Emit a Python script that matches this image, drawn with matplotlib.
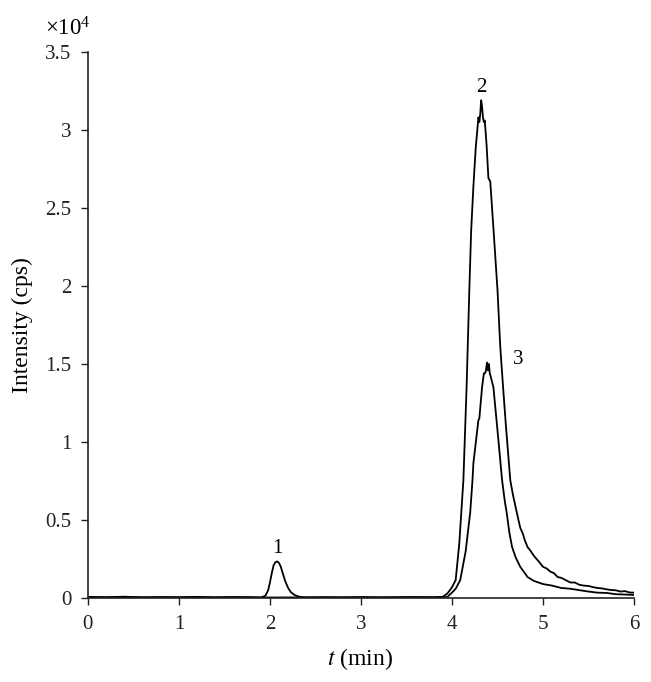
import numpy as np
import matplotlib
matplotlib.use("Agg")
import matplotlib.pyplot as plt

plt.rcParams["font.family"] = ["Liberation Serif", "DejaVu Serif"]
plt.rcParams["mathtext.fontset"] = "stix"

# trace with peak 1 and peak 2 (t in min, intensity in cps)
t_a = [0.0, 0.2, 0.4, 0.6, 0.8, 1.0, 1.2, 1.4, 1.6, 1.8, 1.9, 1.95, 1.98, 2.0,
       2.02, 2.04, 2.06, 2.08, 2.1, 2.12, 2.14, 2.17, 2.2, 2.23, 2.27, 2.32,
       2.4, 2.6, 2.8, 3.0, 3.2, 3.4, 3.6, 3.8, 3.9, 3.95, 4.0, 4.04, 4.08,
       4.125, 4.16, 4.19, 4.21, 4.235, 4.26, 4.29, 4.30, 4.31, 4.32, 4.33,
       4.34, 4.35, 4.36, 4.38, 4.40, 4.41, 4.42, 4.455, 4.50, 4.53, 4.56,
       4.59, 4.64, 4.67, 4.70, 4.73, 4.75, 4.78, 4.80, 4.83, 4.86, 4.90, 4.93,
       4.96, 5.0, 5.04, 5.08, 5.12, 5.16, 5.2, 5.25, 5.3, 5.35, 5.4, 5.45,
       5.5, 5.55, 5.6, 5.65, 5.7, 5.75, 5.8, 5.85, 5.9, 5.95, 6.0]
i_a = [80, 60, 90, 50, 70, 60, 80, 50, 70, 60, 40, 150, 500, 1000,
       1600, 2100, 2300, 2350, 2250, 2000, 1600, 1050, 650, 380, 200, 90,
       40, 60, 50, 70, 50, 60, 70, 60, 90, 300, 700, 1150, 3500,
       7560, 13500, 19700, 23500, 26400, 28800, 30800, 30500, 31000, 31900, 31500,
       30800, 30500, 30600, 29000, 26900, 26800, 26700, 23700, 19700, 16100, 13600,
       11200, 7560, 6600, 5800, 5000, 4500, 4100, 3700, 3270, 3050, 2700, 2500,
       2300, 2000, 1900, 1700, 1600, 1350, 1300, 1150, 1000, 1000, 850, 800,
       780, 700, 650, 620, 560, 520, 500, 420, 450, 360, 350]

# trace with peak 3
t_b = [0.0, 0.5, 1.0, 1.5, 2.0, 2.5, 3.0, 3.5, 3.9, 3.95, 3.99, 4.04, 4.09,
       4.15, 4.2, 4.225, 4.235, 4.26, 4.29, 4.30, 4.33, 4.35, 4.36, 4.37,
       4.385, 4.395, 4.405, 4.415, 4.425, 4.455, 4.51, 4.55, 4.58, 4.6, 4.63,
       4.66, 4.7, 4.75, 4.8, 4.83, 4.9, 5.0, 5.1, 5.2, 5.3, 5.41, 5.5, 5.6,
       5.7, 5.8, 5.9, 6.0]
i_b = [40, 50, 40, 50, 40, 50, 40, 50, 40, 80, 300, 600, 1150,
       3000, 5500, 7560, 8650, 9900, 11400, 11500, 13500, 14400, 14400, 14500,
       15100, 14600, 15000, 14400, 14200, 13500, 10100, 7560, 6200, 5500, 4200,
       3270, 2600, 2000, 1600, 1350, 1100, 900, 800, 650, 600, 500, 420, 350,
       330, 250, 230, 200]

peak_labels = ["1", "2", "3"]
label_t = [2.08, 4.32, 4.73]
label_i = [3200, 32700, 15300]

y_ticks = [0, 5000, 10000, 15000, 20000, 25000, 30000, 35000]
y_tick_labels = ["0", "0.5", "1", "1.5", "2", "2.5", "3", "3.5"]
x_ticks = [0, 1, 2, 3, 4, 5, 6]

fig = plt.figure(figsize=(6.51, 6.82), dpi=100)
ax = fig.add_axes([0.135, 0.123, 0.839, 0.801])

ax.plot(t_a, i_a, color="black", lw=1.3)
ax.plot(t_b, i_b, color="black", lw=1.3)

for lab, tx, iy in zip(peak_labels, label_t, label_i):
    ax.text(tx, iy, lab, fontsize=15, ha="center", va="center")

ax.set_xlim(0, 6)
ax.set_ylim(0, 35000)
ax.set_xticks(x_ticks)
ax.set_xticklabels([str(x) for x in x_ticks])
ax.set_yticks(y_ticks)
ax.set_yticklabels(y_tick_labels)
ax.tick_params(axis="both", direction="out", length=5, width=1, labelsize=15,
               colors="#222222")
ax.tick_params(axis="y", pad=7)
ax.tick_params(axis="x", pad=7)
ax.spines["top"].set_visible(False)
ax.spines["right"].set_visible(False)
for s in ["left", "bottom"]:
    ax.spines[s].set_color("#222222")
    ax.spines[s].set_linewidth(1.2)

ax.set_ylabel("Intensity (cps)", fontsize=17)
ax.yaxis.set_label_coords(-0.10, 0.5)
ax.set_xlabel("$t$ (min)", fontsize=17)
ax.xaxis.set_label_coords(0.498, -0.088)
fig.text(0.069, 0.958, r"$\mathregular{\times10^4}$", fontsize=16.5, va="center")

fig.savefig("out.png", dpi=100, facecolor="white")
